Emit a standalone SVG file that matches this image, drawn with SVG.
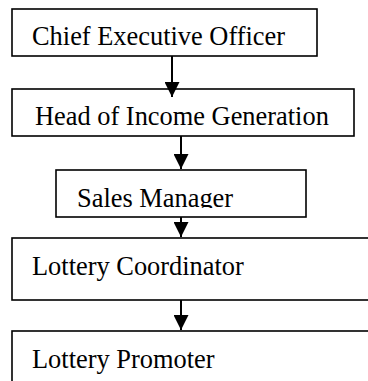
<svg xmlns="http://www.w3.org/2000/svg" width="368" height="381" viewBox="0 0 368 381">
  <style>
    .box { fill: #ffffff; stroke: #000000; stroke-width: 1.6; }
    .lbl { font-family: "Liberation Serif", "Times New Roman", serif; font-size: 26.4px; fill: #000000; }
    .conn { stroke: #000000; stroke-width: 2; fill: none; marker-end: url(#arrow); }
  </style>
  <defs>
    <marker id="arrow" viewBox="0 0 15 15" refX="15" refY="7.5" markerWidth="15" markerHeight="15" markerUnits="userSpaceOnUse" orient="auto">
      <path d="M0,0 L15,7.5 L0,15 Z" fill="#000000"/>
    </marker>
    <clipPath id="clipSales">
      <rect x="56" y="170" width="250" height="38"/>
    </clipPath>
  </defs>
  <rect width="368" height="381" fill="#ffffff"/>

  <g id="ceo">
    <rect class="box" x="12" y="9" width="305" height="47"/>
    <text class="lbl" x="32" y="45">Chief Executive Officer</text>
  </g>
  <g id="head-income">
    <rect class="box" x="12" y="89" width="342" height="47"/>
    <text class="lbl" x="35" y="125">Head of Income Generation</text>
  </g>
  <g id="sales-manager">
    <rect class="box" x="56" y="170" width="250" height="47"/>
    <text class="lbl" x="77" y="207" clip-path="url(#clipSales)">Sales Manager</text>
  </g>
  <g id="lottery-coordinator">
    <rect class="box" x="12" y="238" width="380" height="62"/>
    <text class="lbl" x="32" y="275">Lottery Coordinator</text>
  </g>
  <g id="lottery-promoter">
    <rect class="box" x="12" y="331" width="380" height="80"/>
    <text class="lbl" x="32" y="368">Lottery Promoter</text>
  </g>

  <g id="connectors">
    <line class="conn" x1="172" y1="56" x2="172" y2="97"/>
    <line class="conn" x1="181" y1="136" x2="181" y2="169"/>
    <line class="conn" x1="181" y1="217" x2="181" y2="237"/>
    <line class="conn" x1="181" y1="300" x2="181" y2="330"/>
  </g>
</svg>
